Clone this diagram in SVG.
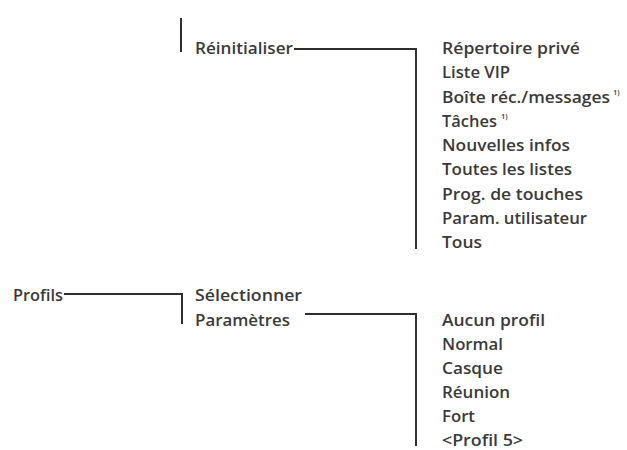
<svg xmlns="http://www.w3.org/2000/svg" width="627" height="450" viewBox="0 0 627 450">
  <style>
    .t { font-family: "Open Sans", "Liberation Sans", Arial, sans-serif; font-size: 16px; font-weight: 600; fill: #3a3a3a; }
    .sup { font-size: 7.5px; }
    .c { fill: none; stroke: #2e2e2e; stroke-width: 2; }
  </style>
  <rect width="627" height="450" fill="#ffffff"/>

  <!-- connectors -->
  <g id="connectors">
    <line class="c" x1="181" y1="18" x2="181" y2="52"/>
    <path class="c" d="M294 49 H416 V249"/>
    <path class="c" d="M64 294 H182 V324"/>
    <path class="c" d="M305 314 H416 V446"/>
  </g>

  <g id="reinitialiser">
    <text class="t" x="195" y="54" textLength="98" lengthAdjust="spacingAndGlyphs">Réinitialiser</text>
  </g>

  <g id="reset-options">
    <text class="t" x="442" y="54" textLength="138" lengthAdjust="spacingAndGlyphs">Répertoire privé</text>
    <text class="t" x="442" y="78" textLength="68" lengthAdjust="spacingAndGlyphs">Liste VIP</text>
    <text class="t" x="442" y="103" textLength="168" lengthAdjust="spacingAndGlyphs">Boîte réc./messages</text>
    <text class="t sup" x="613" y="95">1)</text>
    <text class="t" x="442" y="127" textLength="55" lengthAdjust="spacingAndGlyphs">Tâches</text>
    <text class="t sup" x="501" y="119">1)</text>
    <text class="t" x="442" y="151" textLength="128" lengthAdjust="spacingAndGlyphs">Nouvelles infos</text>
    <text class="t" x="442" y="175" textLength="130" lengthAdjust="spacingAndGlyphs">Toutes les listes</text>
    <text class="t" x="442" y="200" textLength="141" lengthAdjust="spacingAndGlyphs">Prog. de touches</text>
    <text class="t" x="442" y="224" textLength="145" lengthAdjust="spacingAndGlyphs">Param. utilisateur</text>
    <text class="t" x="442" y="248" textLength="40" lengthAdjust="spacingAndGlyphs">Tous</text>
  </g>

  <g id="profils">
    <text class="t" x="13" y="301" textLength="50" lengthAdjust="spacingAndGlyphs">Profils</text>
  </g>

  <g id="profils-menu">
    <text class="t" x="195" y="301" textLength="107" lengthAdjust="spacingAndGlyphs">Sélectionner</text>
    <text class="t" x="195" y="326" textLength="95" lengthAdjust="spacingAndGlyphs">Paramètres</text>
  </g>

  <g id="profile-list">
    <text class="t" x="442" y="326" textLength="103" lengthAdjust="spacingAndGlyphs">Aucun profil</text>
    <text class="t" x="442" y="350" textLength="61" lengthAdjust="spacingAndGlyphs">Normal</text>
    <text class="t" x="442" y="374" textLength="61" lengthAdjust="spacingAndGlyphs">Casque</text>
    <text class="t" x="442" y="398" textLength="68" lengthAdjust="spacingAndGlyphs">Réunion</text>
    <text class="t" x="442" y="422" textLength="33" lengthAdjust="spacingAndGlyphs">Fort</text>
    <text class="t" x="442" y="446" textLength="81" lengthAdjust="spacingAndGlyphs">&lt;Profil 5&gt;</text>
  </g>
</svg>
